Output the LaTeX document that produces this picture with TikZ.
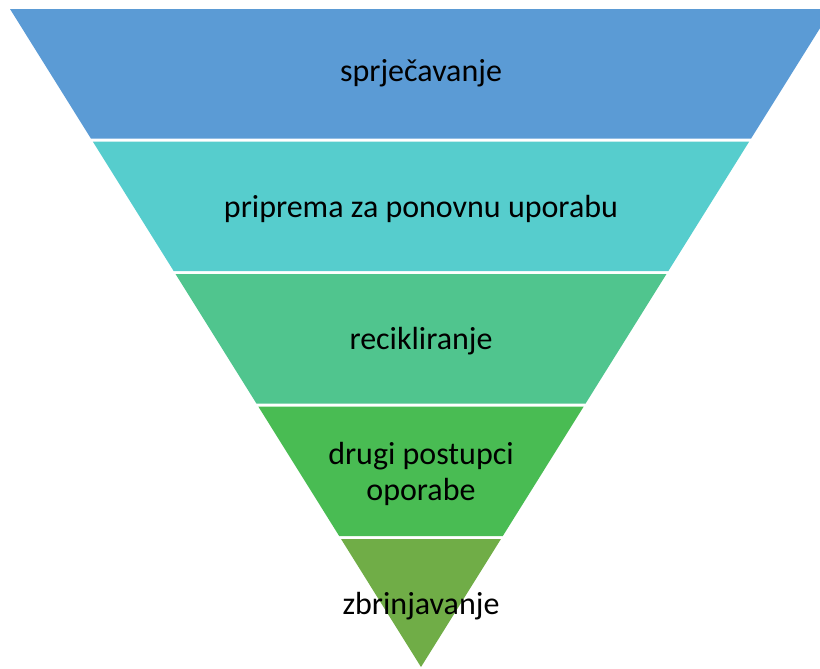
\documentclass[tikz,border=0pt]{standalone}
\usepackage{fontspec}
\setmainfont{Carlito}
\definecolor{tierA}{HTML}{5B9BD5}
\definecolor{tierB}{HTML}{56CDCD}
\definecolor{tierC}{HTML}{50C58E}
\definecolor{tierD}{HTML}{49BC53}
\definecolor{tierE}{HTML}{70AD47}
\begin{document}
\begin{tikzpicture}[x=0.75pt,y=-0.75pt]
    % `tier' is used for the text of each band of the funnel.
    \tikzstyle{tier} = [font=\fontsize{24}{26.5}\selectfont,align=center,text=black,inner sep=0pt]
    %
    \useasboundingbox (0,0) rectangle (820,668);
    \clip (0,0) rectangle (820,668);
    % Draw the bands, top to bottom.
    \foreach \c [count=\i from 0] in {tierA,tierB,tierC,tierD,tierE} {
      \pgfmathsetmacro\yt{9+132.5*\i}
      \pgfmathsetmacro\yb{\i<4 ? \yt+129.5 : 667}
      \pgfmathsetmacro\wt{(667-\yt)*0.6246}
      \pgfmathsetmacro\wb{(667-\yb)*0.6246}
      \fill[\c] ({421-\wt},\yt) -- ({421+\wt},\yt) -- ({421+\wb},\yb) -- ({421-\wb},\yb) -- cycle;
    }
    % Texts.
    \node[tier] (prevent) at (421,73) {sprječavanje};
    \node[tier] (reuse) at (421,209) {priprema za ponovnu uporabu};
    \node[tier] (recycle) at (421,341) {recikliranje};
    \node[tier] (recover) at (421,474) {drugi postupci\\oporabe};
    \node[tier] (dispose) at (421,606) {zbrinjavanje};
\end{tikzpicture}
\end{document}
